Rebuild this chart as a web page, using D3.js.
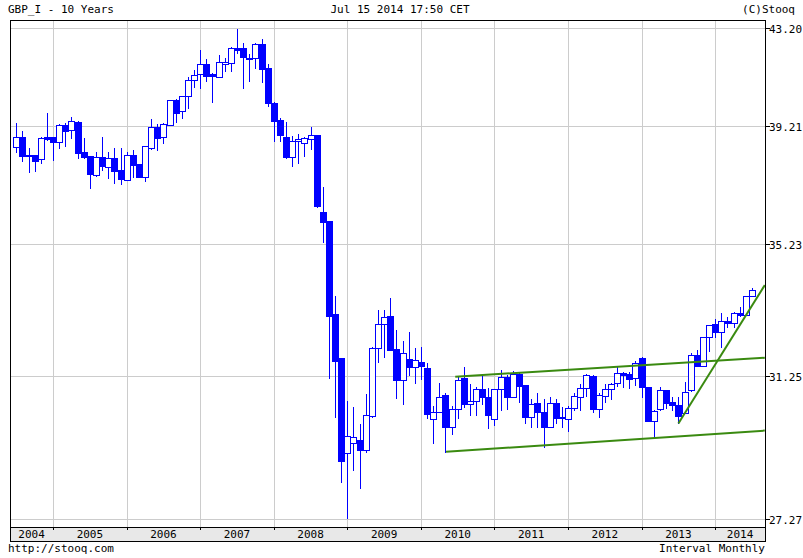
<!DOCTYPE html>
<html><head><meta charset="utf-8">
<script src="https://cdn.jsdelivr.net/npm/d3@7"></script>
<style>body{margin:0;background:#fff}svg{display:block}text{font-family:"DejaVu Sans Mono",monospace;font-size:11px;fill:#000}</style>
</head><body><svg id="c" width="803" height="558"></svg>
<script>
// monthly candles Jul 2004 .. Jul 2014: [open, high, low, close]
const startYear = 2004, startMonth = 6;
const ohlc = [
[38.48,39.30,38.33,38.81],[38.81,39.03,38.03,38.20],[38.22,38.45,37.66,38.19],[38.22,38.22,37.69,38.03],[38.07,38.83,37.96,38.78],[38.82,39.71,38.72,38.76],
[38.81,38.81,38.05,38.67],[38.67,39.26,38.46,39.23],[39.23,39.33,38.52,39.04],[39.06,39.55,38.80,39.39],[39.34,39.39,38.13,38.30],[38.31,38.79,38.13,38.16],
[38.19,38.19,37.12,37.59],[37.56,38.32,37.52,38.15],[38.15,38.82,37.73,37.86],[37.83,38.32,37.46,38.12],[38.12,38.45,37.29,37.69],[37.72,38.45,37.25,37.42],
[37.39,38.32,37.39,38.22],[38.22,38.39,37.49,37.89],[37.92,37.92,37.49,37.49],[37.49,38.52,37.36,38.52],[38.46,39.48,38.43,39.15],[39.16,39.27,38.40,38.80],
[38.81,39.30,38.63,39.26],[39.22,40.27,39.22,40.25],[40.25,40.28,39.37,39.73],[39.79,40.40,39.53,40.40],[40.41,41.21,39.94,41.06],[41.06,41.48,40.80,41.26],
[41.32,42.30,40.73,41.71],[41.73,41.92,41.04,41.25],[41.32,41.35,40.18,41.22],[41.21,42.10,41.21,41.80],[41.74,41.97,41.45,41.81],[41.76,42.41,41.45,42.37],
[42.38,43.16,42.17,42.30],[42.37,42.57,40.76,42.00],[41.97,42.15,41.03,41.93],[41.96,42.57,41.58,42.53],[42.53,42.74,41.00,41.53],[41.55,41.71,40.02,40.12],
[40.12,40.18,38.70,39.41],[39.44,39.51,38.70,38.90],[38.81,39.35,38.11,38.15],[38.14,38.86,37.85,38.68],[38.68,38.93,37.96,38.75],[38.61,38.83,38.19,38.78],
[38.77,39.16,38.43,38.88],[38.89,38.89,36.48,36.52],[36.29,37.15,35.31,35.98],[36.00,36.00,31.20,33.07],[33.11,33.66,30.12,31.71],[31.78,31.78,28.31,28.89],
[29.12,30.56,27.29,29.58],[29.38,30.40,28.63,29.54],[29.47,29.91,28.13,29.20],[29.20,30.74,29.14,30.16],[30.14,32.13,30.10,32.09],[32.09,33.24,31.68,32.81],
[32.81,33.24,31.82,33.04],[33.06,33.59,32.04,32.04],[32.06,32.64,30.65,31.13],[31.13,32.30,30.48,31.94],[31.75,32.58,31.28,31.53],[31.53,32.09,31.06,31.72],
[31.66,32.13,31.17,31.56],[31.48,31.63,30.07,30.20],[30.05,30.41,29.39,30.26],[30.26,31.05,30.26,30.66],[30.71,30.77,29.14,29.84],[29.84,30.41,29.64,30.32],
[30.32,31.21,30.09,31.14],[31.19,31.53,30.40,30.46],[30.46,31.03,30.16,30.55],[30.55,30.94,30.16,30.89],[30.89,31.32,30.47,30.66],[30.66,30.91,29.81,30.17],
[30.04,30.90,29.89,30.89],[30.88,31.42,30.30,31.21],[31.22,31.29,30.32,30.66],[30.66,31.40,30.66,31.31],[31.31,31.33,30.53,30.98],[31.00,31.00,29.95,30.12],
[30.12,30.61,29.82,30.46],[30.50,30.79,29.84,30.24],[30.24,30.60,29.28,29.84],[29.84,30.67,29.84,30.49],[30.49,30.61,29.93,30.09],[30.12,30.40,29.82,30.07],
[30.05,30.41,29.73,30.37],[30.35,30.79,30.30,30.69],[30.67,31.02,30.30,30.92],[30.91,31.30,30.69,31.27],[31.25,31.27,30.26,30.32],[30.32,30.77,30.10,30.71],
[30.70,31.02,30.53,30.88],[30.88,31.06,30.61,31.02],[31.05,31.51,30.97,31.33],[31.33,31.37,30.94,31.29],[31.30,31.38,30.91,31.16],[31.19,31.70,31.00,31.63],
[31.79,31.83,30.67,30.94],[30.94,30.95,30.01,30.01],[30.01,30.30,29.56,30.28],[30.32,30.95,30.30,30.86],[30.86,30.86,30.35,30.49],[30.53,30.67,30.30,30.44],
[30.44,30.67,29.93,30.14],[30.21,31.09,30.21,30.80],[30.86,31.93,30.84,31.88],[31.88,32.03,31.56,31.56],[31.56,32.42,31.56,32.42],[32.42,32.79,32.01,32.79],
[32.82,32.96,32.42,32.59],[32.57,33.16,32.13,32.91],[32.91,33.04,32.72,32.84],[32.84,33.19,32.72,33.14],[33.16,33.34,33.07,33.09],[33.09,33.66,33.09,33.66],
[33.66,33.89,33.65,33.84]
];
const priceTicks = [27.27, 31.25, 35.23, 39.21, 43.20];
const years = [2004,2005,2006,2007,2008,2009,2010,2011,2012,2013,2014];
// trend lines: [monthIndex, price] pairs
const trendLines = [
  [[71.6,31.23],[122.1,31.80]],
  [[70.1,29.14],[122.1,29.73]],
  [[108.0,29.93],[122.1,33.99]]
];
const title = "GBP_I - 10 Years", stamp = "Jul 15 2014 17:50 CET", copy = "(C)Stooq";

const svg = d3.select("#c");
const L=10,R=765,T=20,B=527,AB=541;
const x = d3.scaleLinear().domain([-1.03,122.13]).range([L,R]);
const y = d3.scaleLinear().domain(priceTicks).range([519,376,244,125.5,28]);
const mIdx = yr => (yr-startYear)*12 - startMonth;
const snap = v => Math.round(v)+.5;

svg.append("text").attr("x",8).attr("y",13).text(title);
svg.append("text").attr("x",400).attr("y",13).attr("text-anchor","middle").text(stamp);
svg.append("text").attr("x",795).attr("y",13).attr("text-anchor","end").text(copy);

const g = svg.append("g").attr("shape-rendering","crispEdges");
priceTicks.forEach(p=>g.append("line").attr("x1",L).attr("x2",R).attr("y1",snap(y(p))).attr("y2",snap(y(p))).attr("stroke","#cccccc"));
years.slice(1).forEach(yr=>{const xx=snap(x(mIdx(yr)));
  g.append("line").attr("x1",xx).attr("x2",xx).attr("y1",T).attr("y2",B).attr("stroke","#cccccc");});
g.append("rect").attr("x",L).attr("y",B).attr("width",R-L).attr("height",AB-B).attr("fill","#e8e8e8");
const bounds=[L,...years.slice(1).map(yr=>x(mIdx(yr))),R];
years.forEach((yr,i)=>{
  svg.append("text").attr("x",(bounds[i]+bounds[i+1])/2).attr("y",AB-3).attr("text-anchor","middle").text(yr);
  if(i>0){const xx=snap(bounds[i]);g.append("line").attr("x1",xx).attr("x2",xx).attr("y1",B).attr("y2",B+3).attr("stroke","#000");}
});
const cg = svg.append("g").attr("shape-rendering","crispEdges");
ohlc.forEach((d,i)=>{
  const cx=Math.round(x(i))+.5, up=d[3]>=d[0];
  cg.append("line").attr("x1",cx).attr("x2",cx).attr("y1",Math.round(y(d[1]))).attr("y2",Math.round(y(d[2]))+1).attr("stroke","#0000ff").attr("stroke-width",1);
  const t=snap(y(Math.max(d[0],d[3]))), b=snap(y(Math.min(d[0],d[3])));
  cg.append("rect").attr("x",cx-3).attr("y",t).attr("width",6).attr("height",Math.max(1,b-t))
    .attr("fill",up?"#fff":"#0000ff").attr("stroke","#0000ff").attr("stroke-width",1);
});
const line=d3.line().x(d=>x(d[0])).y(d=>y(d[1]));
trendLines.forEach(t=>svg.append("path").attr("d",line(t)).attr("stroke","#3a8a10").attr("stroke-width",2).attr("fill","none"));
const f = svg.append("g").attr("shape-rendering","crispEdges");
f.append("rect").attr("x",L+.5).attr("y",T+.5).attr("width",R-L).attr("height",AB-T).attr("fill","none").attr("stroke","#000");
f.append("line").attr("x1",L).attr("x2",R).attr("y1",B+.5).attr("y2",B+.5).attr("stroke","#000");
priceTicks.forEach(p=>{const yy=snap(y(p));
  f.append("line").attr("x1",R).attr("x2",R+5).attr("y1",yy).attr("y2",yy).attr("stroke","#000");
  svg.append("text").attr("x",R+4).attr("y",yy+4).text(p.toFixed(2));});
svg.append("text").attr("x",8).attr("y",552).text("http://stooq.com");
svg.append("text").attr("x",R).attr("y",552).attr("text-anchor","end").text("Interval Monthly");
</script></body></html>
